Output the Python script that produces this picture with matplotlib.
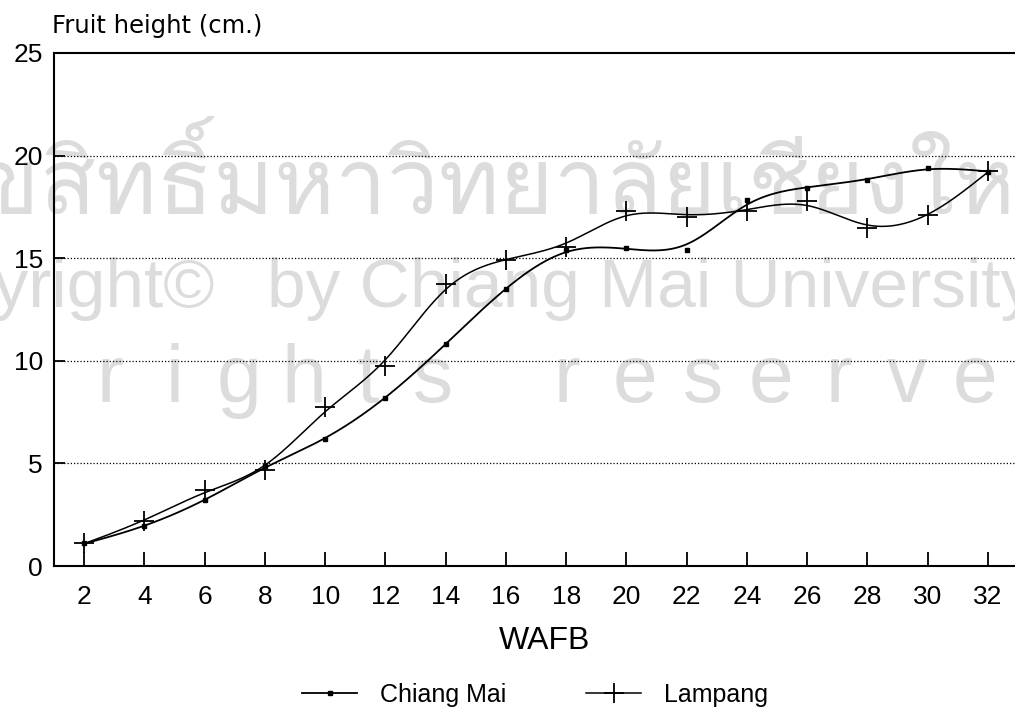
import numpy as np
import matplotlib
matplotlib.use("Agg")
import matplotlib.pyplot as plt
from matplotlib import font_manager
from matplotlib.font_manager import FontProperties

# ---------------- data ----------------
wafb = [2, 4, 6, 8, 10, 12, 14, 16, 18, 20, 22, 24, 26, 28, 30, 32]
chiang_mai = [1.1, 1.95, 3.2, 4.85, 6.2, 8.2, 10.8, 13.5, 15.4, 15.5, 15.4, 17.85, 18.4, 18.8, 19.4, 19.2]
lampang = [1.1, 2.2, 3.7, 4.7, 7.75, 9.75, 13.75, 14.9, 15.55, 17.3, 17.0, 17.3, 17.8, 16.45, 17.1, 19.25]
series_names = ["Chiang Mai", "Lampang"]
yticks = [0, 5, 10, 15, 20, 25]
xlabel = "WAFB"
ylabel = "Fruit height (cm.)"


def smoothing_spline(x, y, lam, n_out=500):
    """Reinsch cubic smoothing spline (natural), evaluated densely."""
    x = np.asarray(x, float)
    y = np.asarray(y, float)
    n = len(x)
    h = np.diff(x)
    Q = np.zeros((n, n - 2))
    R = np.zeros((n - 2, n - 2))
    for j in range(1, n - 1):
        Q[j - 1, j - 1] = 1 / h[j - 1]
        Q[j, j - 1] = -1 / h[j - 1] - 1 / h[j]
        Q[j + 1, j - 1] = 1 / h[j]
        R[j - 1, j - 1] = (h[j - 1] + h[j]) / 3
        if j < n - 2:
            R[j - 1, j] = R[j, j - 1] = h[j] / 6
    K = Q @ np.linalg.solve(R, Q.T)
    g = np.linalg.solve(np.eye(n) + lam * K, y)
    gamma = np.linalg.solve(R, Q.T @ g)
    M = np.concatenate([[0.0], gamma, [0.0]])
    xs = np.linspace(x[0], x[-1], n_out)
    idx = np.clip(np.searchsorted(x, xs) - 1, 0, n - 2)
    xi, xi1 = x[idx], x[idx + 1]
    hi = xi1 - xi
    a = (xi1 - xs) / hi
    b = (xs - xi) / hi
    ys = a * g[idx] + b * g[idx + 1] + ((a ** 3 - a) * M[idx] + (b ** 3 - b) * M[idx + 1]) * hi ** 2 / 6
    return xs, ys


def find_thai_font():
    """Return path of a regular-weight Thai-capable font, preferring condensed widths."""
    from matplotlib.ft2font import FT2Font
    best, best_score = None, None
    for fe in font_manager.fontManager.ttflist:
        if "CJK" in fe.name:
            continue
        try:
            cmap = FT2Font(fe.fname).get_charmap()
        except Exception:
            continue
        if 0x0E01 not in cmap or 0x0E21 not in cmap:
            continue
        st = fe.stretch
        if isinstance(st, str):
            st = font_manager.stretch_dict.get(st, 500)
        wt = fe.weight
        if isinstance(wt, str):
            wt = font_manager.weight_dict.get(wt, 400)
        if fe.style != "normal":
            continue
        score = (abs(st - 300), abs(wt - 400))
        if best_score is None or score < best_score:
            best, best_score = fe.fname, score
    return best


W, H = 1015, 713
fig = plt.figure(figsize=(W / 100, H / 100), dpi=100)
fig.patch.set_facecolor("white")

# ---------------- faint scanned watermark ----------------
wm_col = "#dcdcdc"
thai_path = find_thai_font()
if thai_path is not None:
    renderer = fig.canvas.get_renderer()
    prefix, body = "ลิขสิทธิ์", "มหาวิทยาลัยเชียงใหม่"
    prop = FontProperties(fname=thai_path, size=40)
    wb, _, _ = renderer.get_text_width_height_descent(body[:-2], prop, ismath=False)
    size = 40 * 802 / max(wb, 1)
    prop = FontProperties(fname=thai_path, size=size)
    wp, _, _ = renderer.get_text_width_height_descent(prefix, prop, ismath=False)
    fig.text((213 - wp) / W, 1 - 214 / H, prefix + body, ha="left", va="baseline",
             fontproperties=prop, color=wm_col, zorder=-5)

fig.text(215 / W, 1 - 307 / H, "Copyright\u00a9", ha="right", va="baseline",
         fontsize=50, color=wm_col, family="Liberation Sans", zorder=-5)
fig.text(267 / W, 1 - 307 / H, "by Chiang Mai University", ha="left", va="baseline",
         fontsize=50, color=wm_col, family="Liberation Sans", zorder=-5)
for word, x0, pitch in [("rights", 110, 64.6), ("reserved", 567, 68.0)]:
    for i, ch in enumerate(word):
        fig.text((x0 + i * pitch) / W, 1 - 402 / H, ch, ha="center", va="baseline",
                 fontsize=58, color=wm_col, family="Liberation Sans", zorder=-5)

# ---------------- axes ----------------
ax = fig.add_axes([54 / W, 147 / H, (W - 54) / W, 513 / H])
ax.set_facecolor("none")
ax.set_xlim(1.0, 32.9)
ax.set_ylim(0, 25)

for yv in yticks[1:-1]:
    ax.axhline(yv, color="black", lw=0.9, linestyle=(0, (1, 1.6)), zorder=1)

ax.spines["right"].set_visible(False)
for s in ["left", "bottom", "top"]:
    ax.spines[s].set_linewidth(1.5)
    ax.spines[s].set_color("black")

ax.set_xticks(wafb)
ax.set_xticklabels([str(v) for v in wafb])
ax.set_yticks(yticks)
ax.set_yticklabels([str(v) for v in yticks])
ax.tick_params(axis="x", direction="in", length=10, width=1.3, pad=14,
               labelsize=19, colors="black")
ax.tick_params(axis="y", direction="in", length=8, width=1.3, pad=8,
               labelsize=19, colors="black")
for lab in ax.get_xticklabels() + ax.get_yticklabels():
    lab.set_family("Liberation Sans")

# curves
xs, ys = smoothing_spline(wafb, chiang_mai, lam=0.25)
ax.plot(xs, ys, color="black", lw=1.3, zorder=3)
xs2, ys2 = smoothing_spline(wafb, lampang, lam=0.25)
ax.plot(xs2, ys2, color="black", lw=1.1, zorder=3)

ax.plot(wafb, chiang_mai, linestyle="none", marker="s", markersize=3.2,
        color="black", zorder=4)
ax.plot(wafb, lampang, linestyle="none", marker="+", markersize=14,
        markeredgewidth=1.3, color="black", zorder=4)

# legend handles
h1, = ax.plot([], [], color="black", lw=1.3, marker="s", markersize=3)
h2, = ax.plot([], [], color="black", lw=1.1, marker="+", markersize=14, markeredgewidth=1.3)
fig.legend([h1, h2], series_names, loc="center", bbox_to_anchor=(535 / W, 1 - 695 / H),
           ncol=2, frameon=False, handlelength=2.2, handletextpad=0.9,
           columnspacing=3.2, prop={"family": "Liberation Sans", "size": 18})

# labels
fig.text(52 / W, 1 - 33 / H, ylabel, ha="left", va="baseline",
         fontsize=17.5, family="DejaVu Sans", color="black")
fig.text(545 / W, 1 - 641 / H, xlabel, ha="center", va="center",
         fontsize=23, family="Liberation Sans", color="black")

fig.savefig("out.png", dpi=100, facecolor="white")
